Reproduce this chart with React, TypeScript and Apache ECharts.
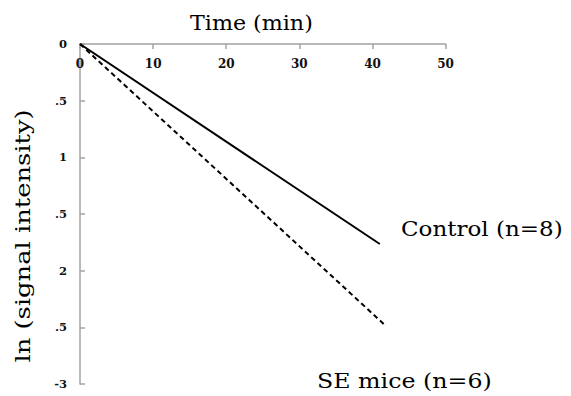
import React, { useEffect, useRef } from "react";
import * as echarts from "echarts";

const xTicks = [0, 10, 20, 30, 40, 50];
const yTickLabels = ["0", ".5", "1", ".5", "2", ".5", "-3"];
const controlLine: [number, number][] = [[0, 0], [41.0, -1.765]];
const seLine: [number, number][] = [[0, 0], [41.7, -2.48]];
const controlLabel = "Control (n=8)";
const seLabel = "SE mice (n=6)";
const xTitle = "Time (min)";
const yTitle = "ln (signal intensity)";

const SERIF = "'DejaVu Serif', serif";
const AXIS_GREY = "#a3a3a3";

export default function App() {
  const ref = useRef<HTMLDivElement>(null);
  useEffect(() => {
    const chart = echarts.init(ref.current!, null, { renderer: "svg" });
    chart.setOption({
      animation: false,
      backgroundColor: "#ffffff",
      grid: { left: 80, top: 44, width: 365.6, height: 340, containLabel: false },
      xAxis: {
        type: "value",
        position: "top",
        min: xTicks[0],
        max: xTicks[xTicks.length - 1],
        interval: 10,
        axisLine: { show: true, lineStyle: { color: AXIS_GREY, width: 1.5 } },
        axisTick: { show: true, inside: true, length: 5, lineStyle: { color: AXIS_GREY, width: 1.5 } },
        axisLabel: {
          inside: true,
          margin: 14,
          color: "#111",
          fontFamily: SERIF,
          fontWeight: "bold",
          fontSize: 12,
          verticalAlign: "top",
        },
        splitLine: { show: false },
      },
      yAxis: {
        type: "value",
        min: -3,
        max: 0,
        interval: 0.5,
        axisLine: { show: true, onZero: false, lineStyle: { color: AXIS_GREY, width: 1.5 } },
        axisTick: { show: true, inside: true, length: 5, lineStyle: { color: AXIS_GREY, width: 1.5 } },
        axisLabel: {
          margin: 13,
          color: "#111",
          fontFamily: SERIF,
          fontWeight: "bold",
          fontSize: 11.5,
          formatter: (v: number) => yTickLabels[Math.round(-v / 0.5)] ?? "",
        },
        splitLine: { show: false },
      },
      series: [
        {
          type: "line",
          data: controlLine,
          symbol: "none",
          lineStyle: { color: "#000", width: 2, type: "solid" },
        },
        {
          type: "line",
          data: seLine,
          symbol: "none",
          lineStyle: { color: "#000", width: 2, type: [5, 3.5] },
        },
      ],
      graphic: [
        {
          type: "text",
          x: 190,
          y: 23,
          scaleX: 1.11,
          style: { text: xTitle, font: `20px ${SERIF}`, fill: "#000", verticalAlign: "middle" },
        },
        {
          type: "text",
          x: 23,
          y: 236,
          rotation: Math.PI / 2,
          scaleX: 1.29,
          style: { text: yTitle, font: `20px ${SERIF}`, fill: "#000", align: "center", verticalAlign: "middle" },
        },
        {
          type: "text",
          x: 401,
          y: 229,
          scaleX: 1.15,
          style: { text: controlLabel, font: `20px ${SERIF}`, fill: "#000", verticalAlign: "middle" },
        },
        {
          type: "text",
          x: 317,
          y: 381,
          scaleX: 1.13,
          style: { text: seLabel, font: `21px ${SERIF}`, fill: "#000", verticalAlign: "middle" },
        },
      ],
    });
    return () => chart.dispose();
  }, []);
  return (
    <div
      ref={ref}
      style={{ position: "fixed", left: 0, top: 0, width: 571, height: 396, background: "#fff" }}
    />
  );
}
